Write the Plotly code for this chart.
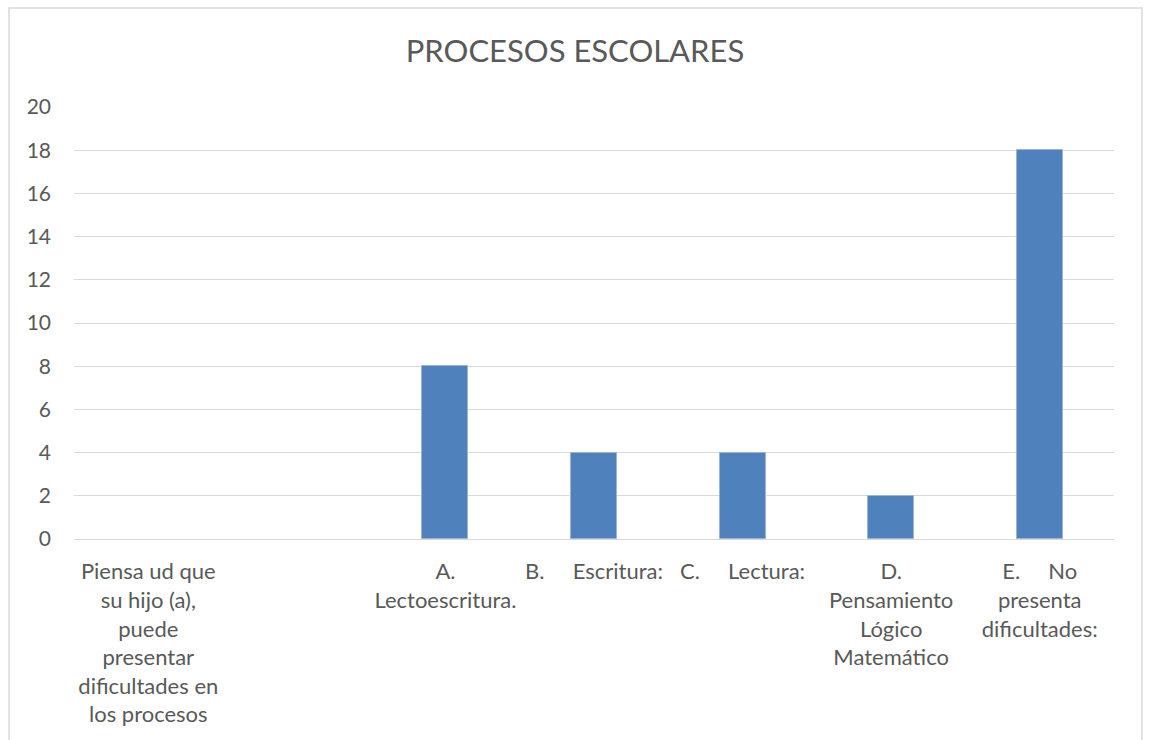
import plotly.graph_objects as go

NB = "\u00a0"
categories = [
    "Piensa ud que<br>su hijo (a),<br>puede<br>presentar<br>dificultades en<br>los procesos",
    "",
    "A.<br>Lectoescritura.",
    "B." + NB * 5 + "Escritura:",
    "C." + NB * 5 + "Lectura:",
    "D.<br>Pensamiento<br>Lógico<br>Matemático",
    "E." + NB * 5 + "No<br>presenta<br>dificultades:",
]
values = [None, None, 8, 4, 4, 2, 18]
y_ticks = [0, 2, 4, 6, 8, 10, 12, 14, 16, 18, 20]

positions = list(range(len(categories)))

fig = go.Figure()
fig.add_trace(go.Bar(
    x=positions,
    y=values,
    width=0.31,
    marker=dict(color="#4F81BD", line=dict(color="#9DB4D6", width=1)),
))

font_family = "Lato, Carlito, Calibri, sans-serif"

fig.update_layout(
    width=1150, height=740,
    margin=dict(l=74, r=36, t=107, b=201),
    paper_bgcolor="white",
    plot_bgcolor="white",
    showlegend=False,
    title=dict(
        text="PROCESOS ESCOLARES",
        x=0.5, xanchor="center",
        y=1 - 51 / 740, yanchor="middle",
        font=dict(family=font_family, size=31, color="#595959"),
    ),
    font=dict(family=font_family, size=22, color="#595959"),
    xaxis=dict(
        range=[-0.5, len(categories) - 0.5],
        tickmode="array",
        tickvals=positions,
        ticktext=categories,
        tickangle=0,
        showgrid=False,
        zeroline=False,
        showline=True,
        linecolor="#D9D9D9",
        linewidth=1,
        ticks="",
        ticklabelstandoff=13,
        tickfont=dict(family=font_family, size=22, color="#595959"),
    ),
    yaxis=dict(
        range=[0, 20],
        tickmode="array",
        tickvals=y_ticks,
        showgrid=True,
        gridcolor="#D9D9D9",
        gridwidth=1,
        zeroline=False,
        showline=False,
        ticks="",
        ticklabelstandoff=22,
        tickfont=dict(family=font_family, size=21, color="#595959"),
    ),
    bargap=0,
    shapes=[
        dict(
            type="rect", xref="paper", yref="paper",
            x0=(9 - 74) / 1040, x1=(1142 - 74) / 1040,
            y0=(539 - 760) / 432, y1=(539 - 8) / 432,
            line=dict(color="#D9D9D9", width=1.5),
            fillcolor="rgba(0,0,0,0)",
            layer="below",
        )
    ],
)

fig.write_html(
    "out.html",
    config={"displayModeBar": False},
    post_script="document.body.style.margin='0';document.body.style.padding='0';",
)
